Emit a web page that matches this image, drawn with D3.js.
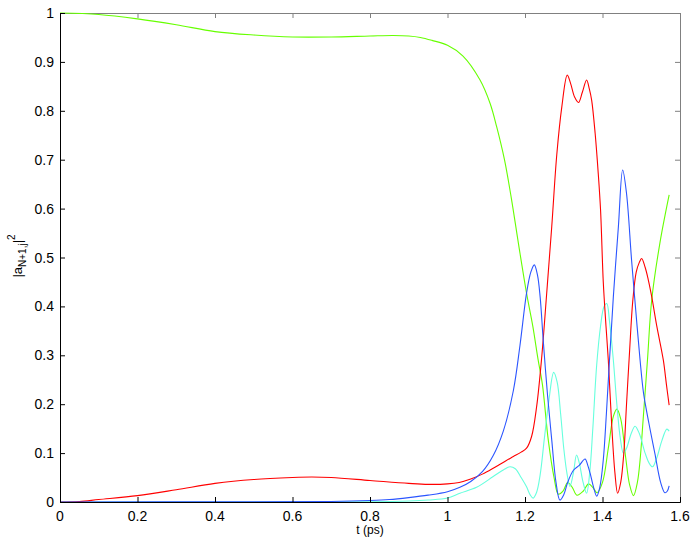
<!DOCTYPE html>
<html><head><meta charset="utf-8">
<script src="https://cdn.jsdelivr.net/npm/d3@7"></script>
<style>body{margin:0;background:#fff}svg{display:block}text{font-family:"Liberation Sans",Arial,sans-serif}</style>
</head><body><svg id="c" width="695" height="542"></svg>
<script>
const xTicks=[0,0.2,0.4,0.6,0.8,1,1.2,1.4,1.6];
const yTicks=[0,0.1,0.2,0.3,0.4,0.5,0.6,0.7,0.8,0.9,1];
const xLabel="t (ps)";
const green=[[0,1.0],[0.1,0.997],[0.2,0.988],[0.3,0.976],[0.4,0.962],[0.5,0.955],[0.6,0.951],[0.7,0.951],[0.8,0.953],[0.86,0.954],[0.9,0.953],[0.93,0.95],[0.96,0.944],[1.0,0.934],[1.04,0.912],[1.084,0.863],[1.11,0.815],[1.127,0.767],[1.147,0.70],[1.165,0.62],[1.183,0.529],[1.204,0.427],[1.22,0.36],[1.234,0.29],[1.245,0.24],[1.26,0.127],[1.275,0.05],[1.286,0.016],[1.298,0.022],[1.31,0.04],[1.322,0.03],[1.334,0.014],[1.35,0.022],[1.364,0.037],[1.375,0.03],[1.386,0.019],[1.4,0.04],[1.415,0.11],[1.428,0.175],[1.437,0.19],[1.447,0.17],[1.46,0.09],[1.47,0.035],[1.48,0.013],[1.49,0.04],[1.497,0.086],[1.505,0.17],[1.516,0.29],[1.527,0.413],[1.548,0.529],[1.572,0.628]];
const red=[[0,0],[0.05,0.001],[0.1,0.005],[0.2,0.013],[0.3,0.025],[0.4,0.038],[0.5,0.046],[0.6,0.050],[0.65,0.051],[0.7,0.050],[0.8,0.044],[0.9,0.038],[0.95,0.036],[1.0,0.037],[1.03,0.040],[1.06,0.047],[1.09,0.057],[1.118,0.069],[1.15,0.084],[1.17,0.093],[1.19,0.102],[1.204,0.110],[1.217,0.134],[1.23,0.195],[1.243,0.295],[1.256,0.427],[1.269,0.563],[1.282,0.71],[1.295,0.808],[1.309,0.873],[1.318,0.855],[1.328,0.828],[1.338,0.817],[1.348,0.838],[1.359,0.863],[1.366,0.845],[1.372,0.822],[1.381,0.754],[1.389,0.672],[1.395,0.597],[1.402,0.45],[1.409,0.36],[1.415,0.29],[1.424,0.154],[1.432,0.06],[1.439,0.018],[1.447,0.04],[1.455,0.1],[1.462,0.2],[1.47,0.31],[1.478,0.41],[1.487,0.47],[1.495,0.49],[1.501,0.498],[1.51,0.48],[1.518,0.455],[1.527,0.42],[1.54,0.36],[1.557,0.29],[1.565,0.24],[1.572,0.198]];
const blue=[[0,0],[0.5,0.0005],[0.7,0.001],[0.8,0.003],[0.85,0.005],[0.9,0.009],[0.95,0.014],[1.0,0.021],[1.032,0.03],[1.06,0.042],[1.09,0.062],[1.118,0.095],[1.144,0.145],[1.17,0.228],[1.187,0.32],[1.204,0.427],[1.215,0.47],[1.224,0.485],[1.232,0.465],[1.239,0.42],[1.247,0.331],[1.258,0.22],[1.269,0.127],[1.28,0.04],[1.29,0.004],[1.3,0.015],[1.31,0.04],[1.325,0.065],[1.34,0.075],[1.355,0.088],[1.362,0.075],[1.368,0.059],[1.377,0.03],[1.385,0.012],[1.393,0.03],[1.402,0.086],[1.41,0.18],[1.418,0.29],[1.428,0.42],[1.441,0.563],[1.452,0.679],[1.462,0.631],[1.475,0.495],[1.486,0.39],[1.497,0.29],[1.506,0.222],[1.52,0.16],[1.535,0.1],[1.55,0.04],[1.561,0.019],[1.567,0.022],[1.572,0.033]];
const cyan=[[0,0],[0.8,0.0005],[0.9,0.002],[0.95,0.004],[1.0,0.008],[1.032,0.018],[1.075,0.03],[1.118,0.052],[1.145,0.066],[1.161,0.072],[1.175,0.068],[1.19,0.05],[1.204,0.031],[1.213,0.015],[1.221,0.008],[1.23,0.02],[1.239,0.055],[1.25,0.13],[1.262,0.21],[1.274,0.265],[1.283,0.245],[1.292,0.18],[1.3,0.11],[1.308,0.06],[1.316,0.032],[1.325,0.06],[1.333,0.096],[1.34,0.08],[1.35,0.04],[1.359,0.018],[1.367,0.06],[1.375,0.15],[1.385,0.28],[1.395,0.36],[1.404,0.4],[1.411,0.406],[1.418,0.37],[1.428,0.29],[1.437,0.2],[1.446,0.13],[1.454,0.1],[1.462,0.11],[1.474,0.14],[1.484,0.155],[1.495,0.14],[1.51,0.1],[1.52,0.08],[1.529,0.072],[1.54,0.09],[1.553,0.125],[1.566,0.149],[1.572,0.145]];
const seriesList=[{d:green,c:"#66ff00"},{d:cyan,c:"#66ffdd"},{d:red,c:"#ff0000"},{d:blue,c:"#2b55ff"}];

const W=695,H=542,m={l:60,r:15,t:13,b:40};
const svg=d3.select("#c");
const x=d3.scaleLinear().domain([0,1.6]).range([m.l,W-m.r]);
const y=d3.scaleLinear().domain([0,1]).range([H-m.b,m.t]);
const fmt=d=>String(+d.toFixed(1));

svg.append("g").attr("transform",`translate(0,${m.t})`)
  .call(d3.axisBottom(x).tickValues(xTicks).tickSize(5).tickFormat(""))
  .call(g=>{g.select(".domain").attr("stroke","#808080");g.selectAll("line").attr("stroke","#808080");});
svg.append("g").attr("transform",`translate(${W-m.r},0)`)
  .call(d3.axisLeft(y).tickValues(yTicks).tickSize(5).tickFormat(""))
  .call(g=>{g.select(".domain").attr("stroke","#808080");g.selectAll("line").attr("stroke","#808080");});

const line=d3.line().x(d=>x(d[0])).y(d=>y(d[1])).curve(d3.curveCatmullRom.alpha(0.5));
seriesList.forEach(s=>{
  svg.append("path").datum(s.d).attr("d",line).attr("fill","none").attr("stroke",s.c).attr("stroke-width",1.1);
});

const gx=svg.append("g").attr("transform",`translate(0,${H-m.b})`)
  .call(d3.axisTop(x).tickValues(xTicks).tickSize(5).tickFormat(""));
gx.select(".domain").attr("stroke","#000");
gx.selectAll("line").attr("stroke","#000");
svg.append("g").selectAll("text").data(xTicks).join("text")
  .attr("x",d=>x(d)).attr("y",H-m.b+19).attr("text-anchor","middle")
  .attr("font-size",14).text(fmt);
const gy=svg.append("g").attr("transform",`translate(${m.l},0)`)
  .call(d3.axisRight(y).tickValues(yTicks).tickSize(5).tickFormat(""));
gy.select(".domain").attr("stroke","#000");
gy.selectAll("line").attr("stroke","#000");
svg.append("g").selectAll("text").data(yTicks).join("text")
  .attr("x",m.l-6).attr("y",d=>y(d)+5).attr("text-anchor","end")
  .attr("font-size",14).text(fmt);

svg.append("text").attr("x",x(0.8)).attr("y",H-m.b+32).attr("text-anchor","middle").attr("font-size",12).text(xLabel);
const yl=svg.append("text").attr("transform",`translate(22,256) rotate(-90)`).attr("text-anchor","middle").attr("font-size",13);
yl.append("tspan").text("|a");
yl.append("tspan").attr("font-size",10).attr("dy",4).text("N+1,j");
yl.append("tspan").attr("dy",-4).text("|");
yl.append("tspan").attr("font-size",10).attr("dy",-7).text("2");
</script></body></html>
